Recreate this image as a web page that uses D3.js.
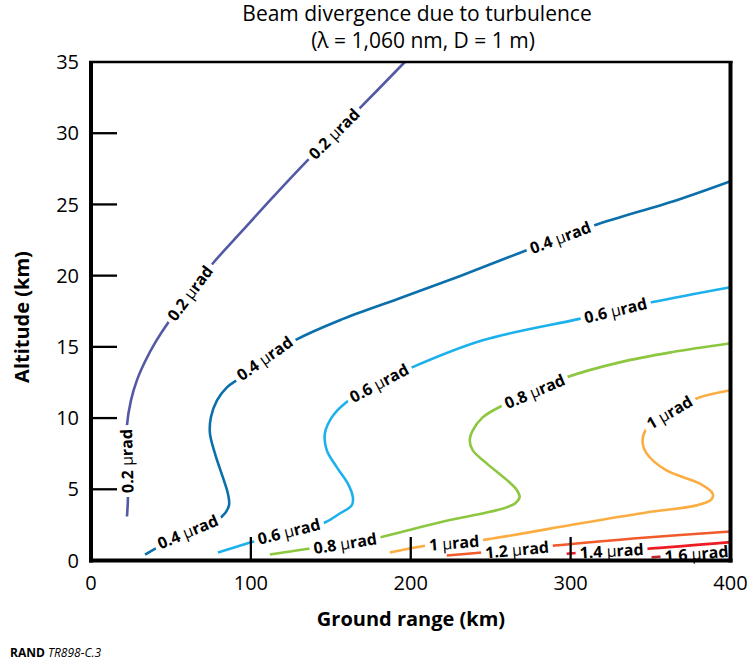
<!DOCTYPE html>
<html>
<head>
<meta charset="utf-8">
<script src="https://cdn.jsdelivr.net/npm/d3@7"></script>
<style>
  body { margin: 0; background: #fff; }
  text { font-family: "Open Sans", sans-serif; fill: #000; }
</style>
</head>
<body>
<svg id="chart" width="747" height="665"></svg>
<script>
// contour levels (µrad) and their colours
var levels = ["0.2", "0.4", "0.6", "0.8", "1", "1.2", "1.4", "1.6"];
var colors = ["#5359a5", "#0b6fab", "#1cb1ec", "#8dc63f", "#fbad42", "#f15a2b", "#ed1c24", "#c1272d"];

// contours: [ground range km, altitude km]
var c02 = [[22.5,3.09],[23.1,4.43],[22.5,7.03],[22.5,9.49],[25,11.24],[28.8,12.68],[33.8,13.97],[40.6,15.38],
  [48.1,16.68],[61.9,18.76],[76.3,20.87],[95,23.19],[113.8,25.51],[133.8,27.9],[166.9,31.62],[196.3,35]];
var c04 = [[33.8,0.42],[55.6,1.76],[81.9,3.09],[86.3,3.87],[85.6,4.71],[82.5,5.83],[77.5,7.52],[74.4,8.92],
  [75,10.05],[78.8,11.24],[85,12.16],[91.9,12.72],[108.8,14.2],[127.5,15.46],[155.6,16.87],[193.1,18.41],
  [230.6,19.96],[272.5,21.78],[315,23.54],[366.3,25.3],[400,26.63]];
var c06 = [[79.4,0.56],[97.5,1.19],[121.3,1.97],[146.3,2.67],[155.6,3.3],[163.1,3.87],[163.8,4.43],[160.6,5.41],
  [153.8,6.54],[147.5,7.73],[146.3,8.92],[150.6,10.05],[158.8,11.03],[178.8,12.37],[199.4,13.49],[245,15.46],
  [306.9,17.0],[350.6,18.13],[400,19.19]];
var c08 = [[111.9,0.42],[136.9,0.84],[158.8,1.19],[180.6,1.62],[207.5,2.39],[227.5,2.92],[246.3,3.34],[258.8,3.69],
  [265.6,4.04],[268.1,4.46],[266.3,4.95],[260,5.66],[247.5,6.82],[238.8,7.73],[236.9,8.43],[238.8,9.14],[245,10.05],
  [257.5,10.89],[280.6,12.02],[297.5,12.86],[330.6,13.91],[363.1,14.62],[400,15.25]];
var c10 = [[186.9,0.56],[210,1.05],[243.1,1.41],[305.6,2.6],[347.5,3.37],[378.8,3.87],[388.1,4.29],[388.8,4.71],
  [380.6,5.41],[360,6.32],[347.5,7.52],[345,8.43],[348.1,9.35],[361.9,10.4],[378.8,11.38],[400,11.95]];
var c12 = [[222.5,0.35],[244.4,0.56],[268.1,0.77],[290,1.05],[347.5,1.62],[400,2.04]];
var c14 = [[297.5,0.47],[305.6,0.54],[346.3,0.81],[400,1.29]];
var c16 = [[350.6,0.23],[356.9,0.28],[377.5,0.46],[400,0.67]];
var contours = [c02, c04, c06, c08, c10, c12, c14, c16];

// where each contour carries its label: [ground range km, altitude km]
var labelSpots = [
  [[23.6,7.0],[61.9,18.8],[151.9,30.0]],
  [[60.6,2.04],[109.4,14.05],[293.8,22.6]],
  [[123.8,2.04],[179.4,12.65],[328.1,17.64]],
  [[158.8,1.19],[277.5,11.9]],
  [[226.9,1.26],[361.9,10.4]],
  [[266.3,0.77]],
  [[325.6,0.70]],
  [[378.8,0.49]]
];

var xTicks = [0, 100, 200, 300, 400];
var yTicks = [0, 5, 10, 15, 20, 25, 30, 35];

var svg = d3.select("#chart");
var x = d3.scaleLinear().domain([0, 400]).range([91, 730.5]);
var y = d3.scaleLinear().domain([0, 35]).range([560.5, 62]);

var line = d3.line()
  .x(function(d){ return x(d[0]); })
  .y(function(d){ return y(d[1]); })
  .curve(d3.curveCatmullRom.alpha(0.5));

var lineLayer = svg.append("g");
var labelLayer = svg.append("g");

contours.forEach(function(pts, i){
  var path = lineLayer.append("path")
    .datum(pts)
    .attr("d", line)
    .attr("fill", "none")
    .attr("stroke", colors[i])
    .attr("stroke-width", 2.6)
    .attr("stroke-linecap", "butt");

  var node = path.node(), L = node.getTotalLength();
  labelSpots[i].forEach(function(lp){
    var px = x(lp[0]), py = y(lp[1]);
    // nearest spot on the drawn curve
    var best = 0, bd = Infinity;
    for (var s = 0; s <= L; s += 0.5) {
      var p = node.getPointAtLength(s);
      var d = (p.x-px)*(p.x-px) + (p.y-py)*(p.y-py);
      if (d < bd) { bd = d; best = s; }
    }
    var p0 = node.getPointAtLength(Math.max(0, best-8)),
        p1 = node.getPointAtLength(Math.min(L, best+8));
    var ang = Math.atan2(p1.y-p0.y, p1.x-p0.x) * 180 / Math.PI;
    // keep text readable; near-vertical reads bottom to top
    if (ang > 80) ang -= 180;
    if (ang < -100) ang += 180;
    var c = node.getPointAtLength(best);

    var lg = labelLayer.append("g")
      .attr("transform", "translate(" + c.x + "," + c.y + ") rotate(" + ang + ")");
    var rect = lg.append("rect").attr("fill", "#fff");
    var t = lg.append("text")
      .attr("text-anchor", "middle")
      .attr("dy", "0.36em")
      .attr("font-size", 16);
    t.append("tspan").attr("font-weight", "bold").text(levels[i] + " ");
    t.append("tspan").attr("font-weight", "normal").text("\u03bc");
    t.append("tspan").attr("font-weight", "bold").text("rad");
    var bb = t.node().getBBox();
    rect.attr("x", bb.x - 4).attr("width", bb.width + 8).attr("y", -5).attr("height", 10);
  });
});

// frame
var frame = svg.append("g").attr("stroke", "#000").attr("fill", "none");
frame.append("line").attr("x1", 89).attr("x2", 732.5).attr("y1", 62).attr("y2", 62).attr("stroke-width", 2.4);
frame.append("line").attr("x1", 730.5).attr("x2", 730.5).attr("y1", 61).attr("y2", 562.5).attr("stroke-width", 4);
frame.append("line").attr("x1", 91).attr("x2", 91).attr("y1", 61).attr("y2", 562.5).attr("stroke-width", 4);
frame.append("line").attr("x1", 89).attr("x2", 732.5).attr("y1", 560.5).attr("y2", 560.5).attr("stroke-width", 4);

// inside ticks
frame.selectAll(".yt").data(yTicks.filter(function(v){ return v > 0 && v < 35; }))
  .enter().append("line")
  .attr("x1", 93).attr("x2", 117)
  .attr("y1", function(d){ return y(d); }).attr("y2", function(d){ return y(d); })
  .attr("stroke-width", 2.3);
frame.selectAll(".xt").data(xTicks.filter(function(v){ return v > 0 && v < 400; }))
  .enter().append("line")
  .attr("x1", function(d){ return x(d); }).attr("x2", function(d){ return x(d); })
  .attr("y1", 537).attr("y2", 559)
  .attr("stroke-width", 2.3);

// tick labels
svg.selectAll(".yl").data(yTicks).enter().append("text")
  .attr("x", 79).attr("y", function(d){ return y(d); })
  .attr("dy", "0.36em").attr("text-anchor", "end")
  .attr("font-size", 20).text(function(d){ return d; });
svg.selectAll(".xl").data(xTicks).enter().append("text")
  .attr("x", function(d){ return x(d); }).attr("y", 590)
  .attr("text-anchor", "middle")
  .attr("font-size", 20).text(function(d){ return d; });

// titles
svg.append("text").attr("x", 417).attr("y", 21).attr("text-anchor", "middle")
  .attr("font-size", 21).text("Beam divergence due to turbulence");
svg.append("text").attr("x", 423).attr("y", 48).attr("text-anchor", "middle")
  .attr("font-size", 21).text("(\u03bb = 1,060 nm, D = 1 m)");
svg.append("text").attr("x", 411).attr("y", 626).attr("text-anchor", "middle")
  .attr("font-size", 20).attr("font-weight", "bold").text("Ground range (km)");
svg.append("text").attr("transform", "translate(29,317) rotate(-90)").attr("text-anchor", "middle")
  .attr("font-size", 20).attr("font-weight", "bold").text("Altitude (km)");

var foot = svg.append("text").attr("x", 10).attr("y", 657).attr("font-size", 12);
foot.append("tspan").attr("font-weight", "bold").text("RAND ");
foot.append("tspan").attr("font-style", "italic").text("TR898-C.3");
</script>
</body>
</html>
